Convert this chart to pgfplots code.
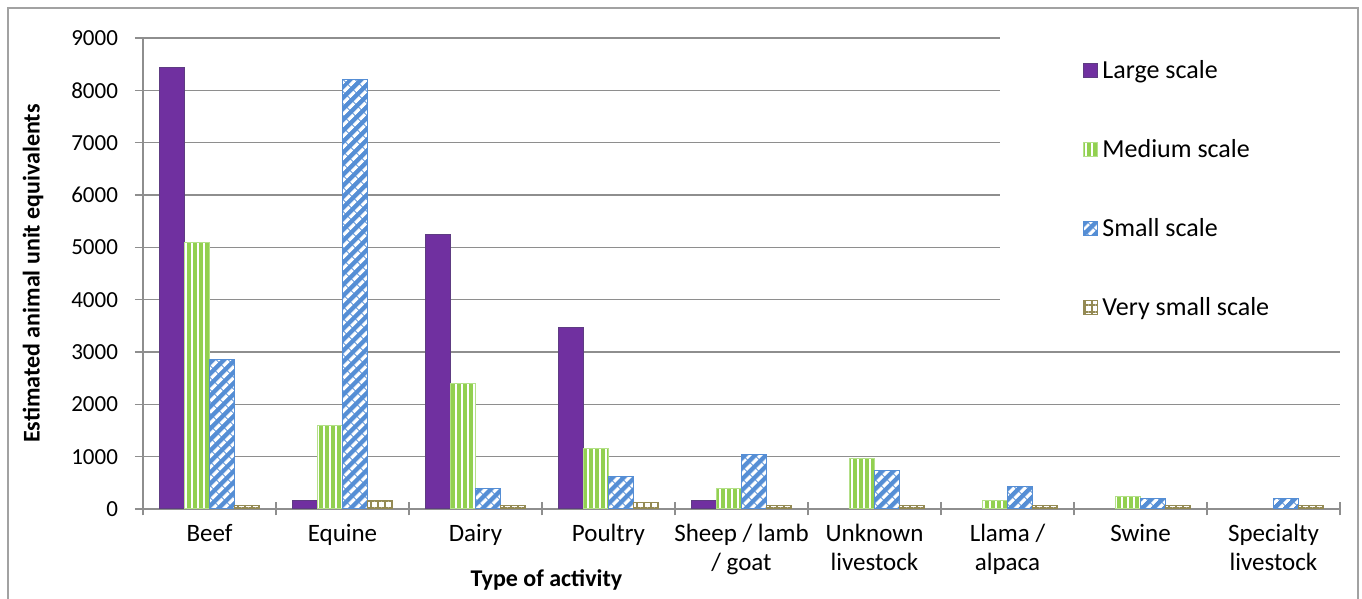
\documentclass[border=0pt]{standalone}
\usepackage{fontspec}
\setmainfont{Carlito}
\usepackage{pgfplots}
\pgfplotsset{compat=1.18}
\usetikzlibrary{patterns.meta}
\definecolor{largec}{HTML}{7030A0}
\definecolor{largeb}{HTML}{5E3C82}
\definecolor{medc}{HTML}{92D050}
\definecolor{medb}{HTML}{B4E08A}
\definecolor{smallc}{HTML}{558ED5}
\definecolor{vsc}{HTML}{948A54}
\definecolor{gridc}{HTML}{8E8E8E}
\definecolor{framec}{HTML}{A2A2A2}

\begin{document}
\begin{tikzpicture}
\begin{axis}[
    width=598.5pt, height=235.5pt, scale only axis,
    ybar=0pt, bar width=12.5pt,
    xmin=-0.5, xmax=8.5, ymin=0, ymax=9000,
    axis lines=left,
    axis line style={-, gridc, line width=0.75pt},
    ymajorgrids,
    grid style={gridc, line width=0.75pt},
    ytick={0,1000,...,9000},
    xtick={0,...,8},
    minor xtick={-0.5,0.5,...,8.5},
    xticklabels={Beef,Equine,Dairy,Poultry,{Sheep / lamb\\/ goat},{Unknown\\livestock},{Llama /\\alpaca},Swine,{Specialty\\livestock}},
    tick align=center,
    major tick length=8pt,
    minor tick length=6.5pt,
    tick style={gridc, line width=0.75pt},
    major x tick style={draw=none},
    /pgf/number format/assume math mode=true,
    /pgf/number format/set thousands separator={},
    yticklabel style={font=\fontsize{11.5}{13.8}\selectfont, xshift=-5pt},
    xticklabel style={align=center, font=\fontsize{12.5}{14.5}\selectfont},
    ylabel={\bfseries Estimated animal unit equivalents},
    ylabel style={at={(axis description cs:-0.0919,0.5)}, anchor=center, font=\fontsize{12}{14}\selectfont},
    xlabel={\bfseries Type of activity},
    xlabel style={at={(axis description cs:0.337,-0.1507)}, anchor=center, font=\fontsize{12}{14}\selectfont},
    legend style={at={(0.716,1.005)}, anchor=north west, draw=none, fill=white,
        inner xsep=41.5pt, inner ysep=10pt,
        font=\fontsize{13}{15.6}\selectfont, row sep=25pt, cells={anchor=west}},
    legend image code/.code={\draw[#1] (0pt,-3.5pt) rectangle (7pt,3.5pt);},
]
\addplot[fill=largec, draw=largeb, line width=0.5pt]
    coordinates {(0,8430) (1,170) (2,5250) (3,3460) (4,160)};
\addlegendentry{Large scale}
\addplot[fill=medc, draw=medb, line width=0.5pt,
    postaction={pattern={Lines[angle=90,distance=3pt,line width=1pt]}, pattern color=white}]
    coordinates {(0,5100) (1,1590) (2,2390) (3,1150) (4,390) (5,960) (6,160) (7,235)};
\addlegendentry{Medium scale}
\addplot[fill=smallc, draw=smallc, line width=0.5pt,
    postaction={pattern={Lines[angle=45,distance=4pt,line width=1.7pt]}, pattern color=white}]
    coordinates {(0,2850) (1,8200) (2,385) (3,620) (4,1035) (5,735) (6,430) (7,200) (8,200)};
\addlegendentry{Small scale}
\addplot[fill=white, draw=vsc, line width=0.5pt,
    postaction={pattern={Hatch[angle=0,distance=3.5pt,line width=0.9pt]}, pattern color=vsc}]
    coordinates {(0,75) (1,155) (2,75) (3,120) (4,75) (5,75) (6,75) (7,75) (8,75)};
\addlegendentry{Very small scale}
\end{axis}
\draw[framec, line width=0.75pt] (-67.5pt,-50pt) -- (-67.5pt,250.5pt) -- (607.5pt,250.5pt) -- (607.5pt,-50pt);
\pgfresetboundingbox
\path[use as bounding box] (-71.5pt,-45pt) rectangle (609.5pt,254.5pt);
\end{tikzpicture}
\end{document}
